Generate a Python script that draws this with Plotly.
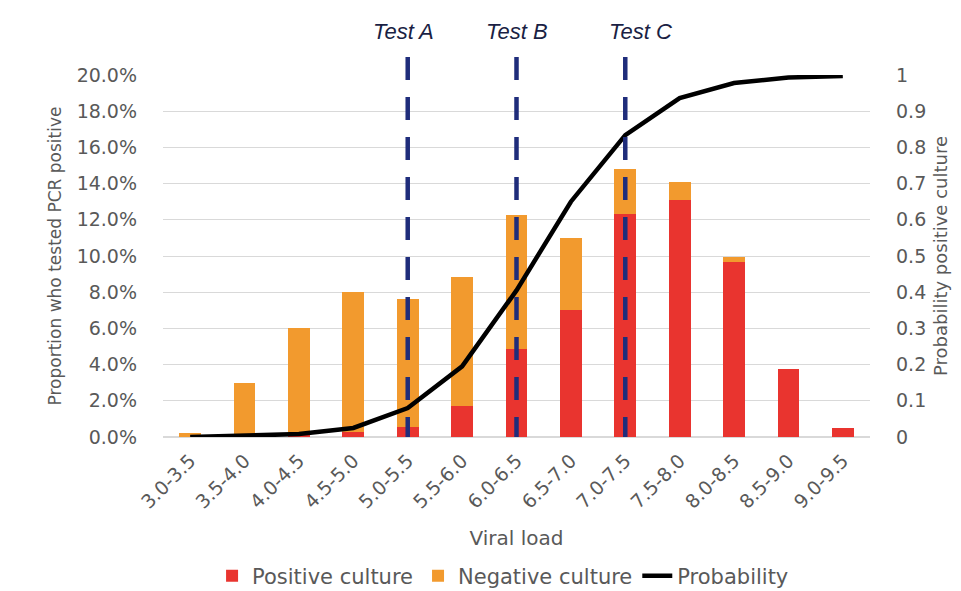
import plotly.graph_objects as go

categories = ["3.0-3.5", "3.5-4.0", "4.0-4.5", "4.5-5.0", "5.0-5.5", "5.5-6.0", "6.0-6.5",
              "6.5-7.0", "7.0-7.5", "7.5-8.0", "8.0-8.5", "8.5-9.0", "9.0-9.5"]
positive_culture = [0.000, 0.000, 0.001, 0.003, 0.0055, 0.017, 0.0486, 0.070, 0.123, 0.131, 0.0967, 0.0376, 0.005]
negative_culture = [0.002, 0.030, 0.059, 0.077, 0.0705, 0.0715, 0.074, 0.040, 0.025, 0.010, 0.0028, 0.000, 0.000]
probability = [0.000, 0.003, 0.008, 0.025, 0.080, 0.195, 0.405, 0.650, 0.834, 0.936, 0.978, 0.993, 0.997]
test_names = ["Test A", "Test B", "Test C"]
test_bins = ["5.0-5.5", "6.0-6.5", "7.0-7.5"]
test_label_shift = [-4, 0, 15]

RED = "#E9342F"
ORANGE = "#F29A2E"
NAVY = "#1F2D7B"
GREY = "#595959"
FONT = "DejaVu Sans"

fig = go.Figure()
fig.add_trace(go.Bar(x=categories, y=positive_culture, name="Positive culture",
                     marker=dict(color=RED, line=dict(width=0)), width=0.4))
fig.add_trace(go.Bar(x=categories, y=negative_culture, name="Negative culture",
                     marker=dict(color=ORANGE, line=dict(width=0)), width=0.4))
fig.add_trace(go.Scatter(x=categories, y=probability, name="Probability", yaxis="y2",
                         mode="lines", line=dict(color="black", width=4.5)))

for name, b, sh in zip(test_names, test_bins, test_label_shift):
    fig.add_shape(type="line", xref="x", yref="paper", x0=b, x1=b, y0=1.05, y1=0,
                  line=dict(color=NAVY, width=4.5, dash="23px,17px"), layer="above")
    fig.add_annotation(x=b, xref="x", y=1.119, yref="paper", yanchor="middle", text=name,
                       showarrow=False, xshift=sh,
                       font=dict(family="Liberation Sans", size=22, color="#1a1f44", style="italic"))

fig.update_layout(
    width=953, height=583,
    margin=dict(l=155, r=91, t=67, b=154, autoexpand=False),
    paper_bgcolor="white", plot_bgcolor="white",
    barmode="stack", bargap=0.6,
    font=dict(family=FONT, size=19, color=GREY),
    showlegend=True,
    legend=dict(orientation="h", x=0.481, xanchor="center", y=-0.384, yanchor="middle",
                font=dict(size=21, color=GREY), itemwidth=30, traceorder="normal"),
    xaxis=dict(type="category", tickangle=-45, tickfont=dict(size=19, color=GREY),
               showgrid=False, showline=False, ticks="", ticklabelstandoff=8, automargin=False,
               title=dict(text="Viral load", font=dict(size=20, color=GREY), standoff=19)),
    yaxis=dict(range=[0, 0.2], dtick=0.02, tickformat=".1%", showgrid=True,
               gridcolor="#D9D9D9", gridwidth=1, zeroline=True, zerolinecolor="#D9D9D9",
               tickfont=dict(size=19, color=GREY), ticklabelstandoff=25, automargin=False,
               title=dict(text="Proportion who tested PCR positive", font=dict(size=17, color=GREY), standoff=10)),
    yaxis2=dict(range=[0, 1], dtick=0.1, overlaying="y", side="right", showgrid=False,
                zeroline=False, tickfont=dict(size=19, color=GREY), ticklabelstandoff=25, automargin=False,
                title=dict(text="Probability positive culture", font=dict(size=18, color=GREY), standoff=9)),
)

fig.write_html("out.html")
